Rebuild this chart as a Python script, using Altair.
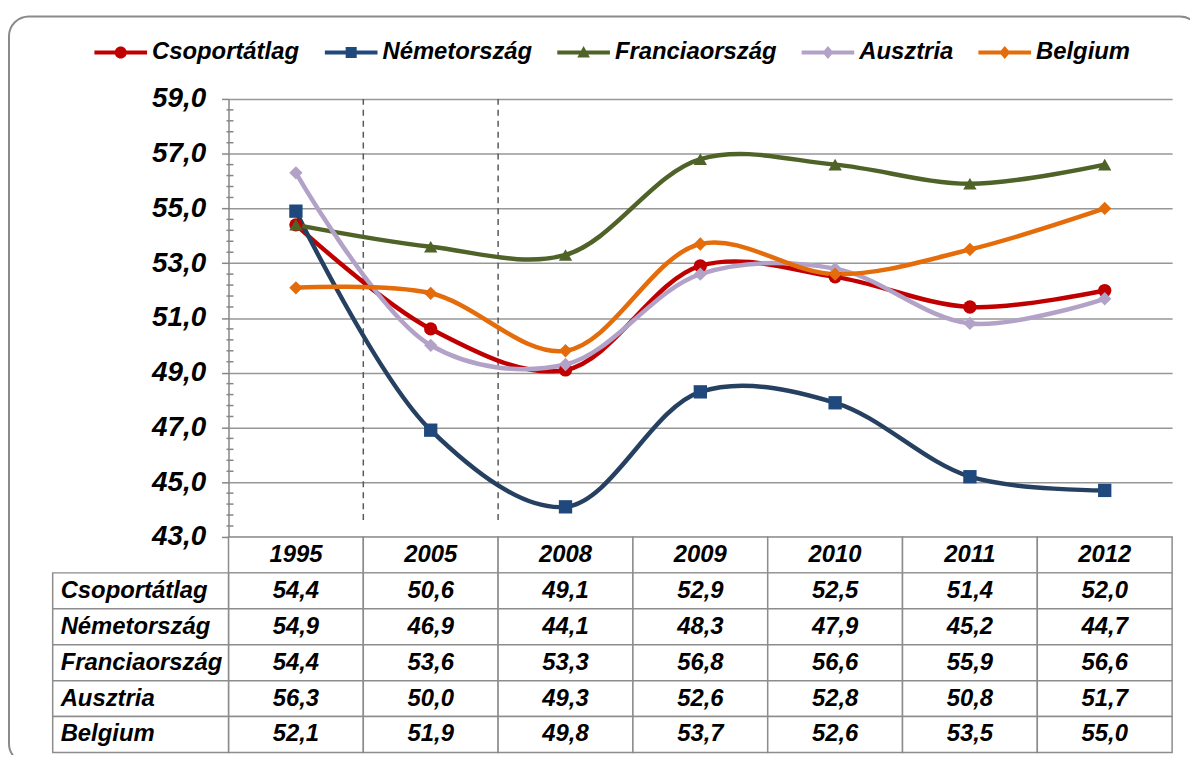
import altair as alt
import pandas as pd

years = ["1995", "2005", "2008", "2009", "2010", "2011", "2012"]
series = ["Csoportátlag", "Németország", "Franciaország", "Ausztria", "Belgium"]
csoportatlag = [54.4, 50.6, 49.1, 52.9, 52.5, 51.4, 52.0]
nemetorszag = [54.9, 46.9, 44.1, 48.3, 47.9, 45.2, 44.7]
franciaorszag = [54.4, 53.6, 53.3, 56.8, 56.6, 55.9, 56.6]
ausztria = [56.3, 50.0, 49.3, 52.6, 52.8, 50.8, 51.7]
belgium = [52.1, 51.9, 49.8, 53.7, 52.6, 53.5, 55.0]
y_ticks = [43, 45, 47, 49, 51, 53, 55, 57, 59]
dashed_years = ["2005", "2008"]

line_colors = ["#C00000", "#254061", "#4F6228", "#B3A2C7", "#E46C0A"]
marker_colors = ["#C00000", "#1F497D", "#4F6228", "#B3A2C7", "#E46C0A"]
shapes = ["circle", "square", "triangle-up", "diamond", "diamond"]

FONT = "Liberation Sans"
W, H = 950, 658
PLOT_H = 441

values = [csoportatlag, nemetorszag, franciaorszag, ausztria, belgium]
df = pd.DataFrame(
    [
        {"series": s, "year": y, "value": v, "si": i}
        for i, (s, vals) in enumerate(zip(series, values))
        for y, v in zip(years, vals)
    ]
)

minor = pd.DataFrame({"v": [43 + 0.4 * k for k in range(1, 40) if k % 5 != 0]})
dashed = pd.DataFrame({"year": dashed_years})

x_scale = alt.Scale(domain=years, paddingInner=0, paddingOuter=0)
xb = alt.X("year:N", scale=x_scale, axis=None)
y_scale = alt.Scale(domain=[43, 59], range=[PLOT_H, 0], nice=False, zero=False)

y_axis = alt.Axis(
    values=y_ticks,
    title=None,
    grid=True,
    gridColor="#979797",
    gridWidth=1.5,
    domainColor="#868686",
    domainWidth=1.5,
    tickColor="#868686",
    tickWidth=1.5,
    tickSize=7,
    labelFont=FONT,
    labelFontSize=28,
    labelFontWeight="bold",
    labelFontStyle="italic",
    labelColor="black",
    labelPadding=16,
    labelExpr="replace(format(datum.value, '.1f'), '.', ',')",
)

# legend symbols: line segment with the series marker on it
seg = "M-1,-0.075H1V0.075H-1Z"
legend_paths = [
    seg + "M0.23,0A0.23,0.23 0 1 1 -0.23,0A0.23,0.23 0 1 1 0.23,0Z",
    seg + "M-0.21,-0.21H0.21V0.21H-0.21Z",
    seg + "M0,-0.25L0.24,0.19H-0.24Z",
    seg + "M0,-0.25L0.21,0L0,0.25L-0.21,0Z",
    seg + "M0,-0.25L0.21,0L0,0.25L-0.21,0Z",
]

legend = alt.Legend(
    orient="none",
    legendX=-135,
    legendY=-73.5,
    direction="horizontal",
    columns=5,
    title=None,
    padding=0,
    symbolSize=2809,
    symbolStrokeWidth=0,
    labelFont=FONT,
    labelFontSize=24,
    labelFontWeight="bold",
    labelFontStyle="italic",
    labelColor="black",
    labelOffset=5,
    labelLimit=0,
    columnPadding=25,
)

lines = alt.Chart(df).mark_line(interpolate="catmull-rom", strokeWidth=4.5).encode(
    x=xb,
    y=alt.Y("value:Q", scale=y_scale, axis=y_axis),
    stroke=alt.Stroke("series:N", scale=alt.Scale(domain=series, range=line_colors), legend=None),
    order=alt.Order("si:Q"),
)

points = alt.Chart(df).mark_point(filled=True, size=180, opacity=1, strokeWidth=0).encode(
    x=xb,
    y=alt.Y("value:Q", scale=y_scale),
    fill=alt.Fill("series:N", scale=alt.Scale(domain=series, range=marker_colors), legend=None),
    shape=alt.Shape("series:N", scale=alt.Scale(domain=series, range=shapes), legend=None),
)

legend_layer = (
    alt.Chart(df)
    .transform_filter("false")
    .mark_point(filled=True, opacity=1)
    .encode(
        x=xb,
        y=alt.Y("value:Q", scale=y_scale),
        fill=alt.Fill("series:N", scale=alt.Scale(domain=series, range=marker_colors), legend=legend),
        shape=alt.Shape("series:N", scale=alt.Scale(domain=series, range=legend_paths), legend=legend),
    )
)

minor_ticks = alt.Chart(minor).mark_rule(color="#868686", strokeWidth=1.5).encode(
    x=alt.value(-2),
    x2=alt.value(5),
    y=alt.Y("v:Q", scale=y_scale),
)

dash_rules = alt.Chart(dashed).mark_rule(color="#595959", strokeWidth=1.5, strokeDash=[6, 5]).encode(
    x=alt.X("year:N", scale=x_scale, axis=None, bandPosition=0),
    y=alt.Y(datum=59, scale=y_scale),
    y2=alt.Y2(datum=43.5),
)

plot = alt.layer(dash_rules, lines, points, minor_ticks, legend_layer).resolve_scale(
    shape="independent", fill="independent"
)

# ---- data table ----
row_keys = ["hdr"] + series
y_tab = alt.Y(
    "row:N",
    scale=alt.Scale(domain=row_keys, range=[PLOT_H, H], paddingInner=0, paddingOuter=0),
    axis=None,
)

cells = pd.DataFrame([{"row": r, "year": y} for r in row_keys for y in years])
label_rows = pd.DataFrame({"row": series})
header = pd.DataFrame({"row": ["hdr"] * len(years), "year": years})
table_vals = df.rename(columns={"series": "row"})

cell_rects = alt.Chart(cells).mark_rect(fill="white", stroke="#8C8C8C", strokeWidth=1.5).encode(
    x=xb, y=y_tab
)
label_rects = alt.Chart(label_rows).mark_rect(fill="white", stroke="#8C8C8C", strokeWidth=1.5).encode(
    x=alt.value(-177), x2=alt.value(0), y=y_tab
)
txt = dict(font=FONT, fontSize=24, fontWeight="bold", fontStyle="italic", color="black", baseline="middle")
header_text = alt.Chart(header).mark_text(align="center", **txt).encode(
    x=xb, y=y_tab, text="year:N"
)
label_text = alt.Chart(label_rows).mark_text(align="left", **txt).encode(
    x=alt.value(-169), y=y_tab, text="row:N"
)
value_text = (
    alt.Chart(table_vals)
    .transform_calculate(lbl="replace(format(datum.value, '.1f'), '.', ',')")
    .mark_text(align="center", **txt)
    .encode(x=xb, y=y_tab, text="lbl:N")
)

table = alt.layer(cell_rects, label_rects, header_text, label_text, value_text)

frame = alt.Chart(pd.DataFrame({"a": [0]})).mark_rect(
    filled=False, stroke="#8A8A8A", strokeWidth=2, cornerRadius=20
).encode(
    x=alt.value(-221), x2=alt.value(978), y=alt.value(-83), y2=alt.value(669)
)

chart = (
    alt.layer(frame, plot, table)
    .resolve_scale(y="independent")
    .properties(
        width=W,
        height=H,
        autosize=alt.AutoSizeParams(type="none"),
        padding={"left": 222, "top": 89, "right": 18, "bottom": 0},
        background="white",
    )
    .configure_view(stroke=None)
)

chart.save("out.html", embed_options={"renderer": "svg", "actions": False})
